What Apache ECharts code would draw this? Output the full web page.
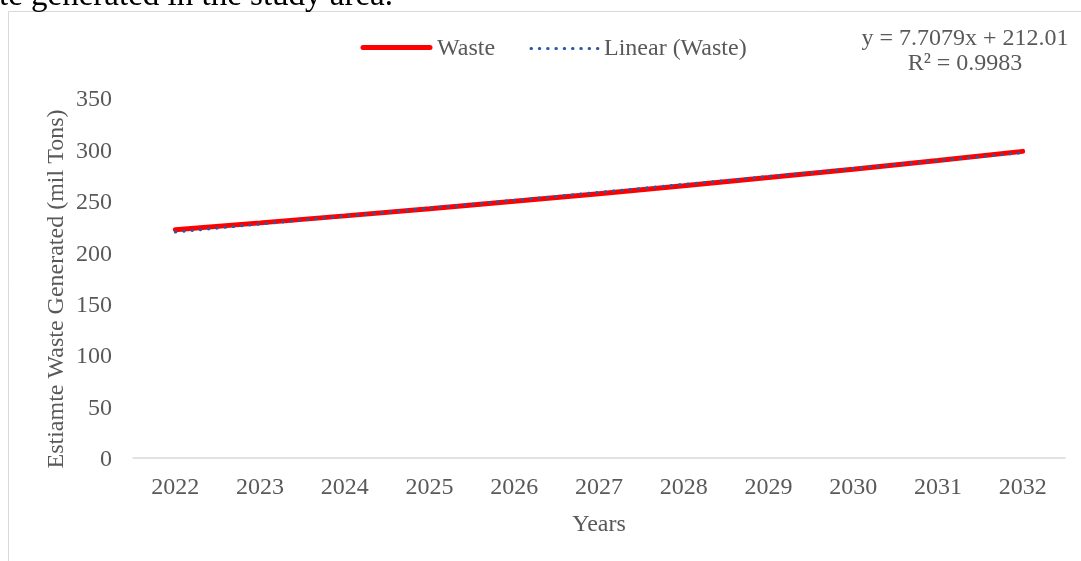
<!DOCTYPE html>
<html>
<head>
<meta charset="utf-8">
<script src="https://cdn.jsdelivr.net/npm/echarts@6/dist/echarts.min.js"></script>
<style>
html,body{margin:0;padding:0;background:#fff;}
#c{width:1081px;height:561px;}
</style>
</head>
<body>
<div id="c"></div>
<script>
const years = ['2022','2023','2024','2025','2026','2027','2028','2029','2030','2031','2032'];
const waste = [222, 228.6, 235.4, 242.4, 249.6, 257.0, 264.7, 272.6, 280.8, 289.3, 298.1];
const trendSlope = 7.7079;
const trendIntercept = 212.01;
const yTicks = [0, 50, 100, 150, 200, 250, 300, 350];
const legendNames = ['Waste', 'Linear (Waste)'];

const trend = years.map((y, i) => +(trendSlope * (i + 1) + trendIntercept).toFixed(2));

const font = '"Liberation Serif", "Times New Roman", serif';
const RED = '#FF0000', BLUE = '#3057A0', GREY = '#595959';
const chart = echarts.init(document.getElementById('c'));
chart.setOption({
  animation: false,
  graphic: [
    { type: 'rect', shape: { x: 8.5, y: 11.5, width: 1100, height: 600 }, style: { fill: 'none', stroke: '#D9D9D9', lineWidth: 1 }, silent: true },
    { type: 'text', x: -1, y: -20, style: { text: 'te generated in the study area.', font: '33px ' + font, fill: '#000' } },
    { type: 'text', x: 965, y: 26, style: { text: 'y = 7.7079x + 212.01\nR² = 0.9983', font: '24px ' + font, fill: GREY, align: 'center', lineHeight: 25 } },
    // legend
    { type: 'line', shape: { x1: 363, y1: 47.5, x2: 430, y2: 47.5 }, style: { stroke: RED, lineWidth: 5, lineCap: 'round' } },
    { type: 'text', x: 437, y: 49, style: { text: legendNames[0], font: '24px ' + font, fill: GREY, verticalAlign: 'middle' } },
    { type: 'line', shape: { x1: 531, y1: 48.5, x2: 598, y2: 48.5 }, style: { stroke: BLUE, lineWidth: 3, lineCap: 'round', lineDash: [0.5, 7.8] } },
    { type: 'text', x: 604, y: 49, style: { text: legendNames[1], font: '24px ' + font, fill: GREY, verticalAlign: 'middle' } }
  ],
  legend: { show: false, data: legendNames },
  grid: { left: 133, right: 16, top: 98, bottom: 103 },
  xAxis: {
    type: 'category', data: years, boundaryGap: true,
    name: 'Years', nameLocation: 'middle', nameGap: 55,
    nameTextStyle: { fontFamily: font, fontSize: 24, color: GREY },
    axisLine: { lineStyle: { color: '#D9D9D9', width: 1.5 } },
    axisTick: { show: false },
    axisLabel: { fontFamily: font, fontSize: 24, color: GREY, margin: 18 }
  },
  yAxis: {
    type: 'value', min: 0, max: 350, interval: 50,
    name: 'Estiamte Waste Generated (mil Tons)', nameLocation: 'middle', nameGap: 64,
    nameMoveOverlap: false,
    nameTextStyle: { fontFamily: font, fontSize: 24, color: GREY, padding: [0, 22, 0, 0] },
    axisLine: { show: false }, axisTick: { show: false },
    splitLine: { show: false },
    axisLabel: { fontFamily: font, fontSize: 24, color: GREY, margin: 21,
      formatter: v => yTicks.includes(v) ? '{a|' + v + '}' : '',
      rich: { a: { fontFamily: font, fontSize: 24, color: GREY, padding: [4, 0, 0, 0] } } }
  },
  series: [
    { name: 'Waste', type: 'line', data: waste, showSymbol: false, symbol: 'none',
      lineStyle: { color: RED, width: 5, cap: 'round' }, itemStyle: { color: RED }, z: 2 },
    { name: 'Linear (Waste)', type: 'line', data: trend, showSymbol: false, symbol: 'none',
      lineStyle: { color: BLUE, width: 3, type: [0.5, 7.8], cap: 'round' }, itemStyle: { color: BLUE }, z: 3 }
  ]
});
</script>
</body>
</html>
